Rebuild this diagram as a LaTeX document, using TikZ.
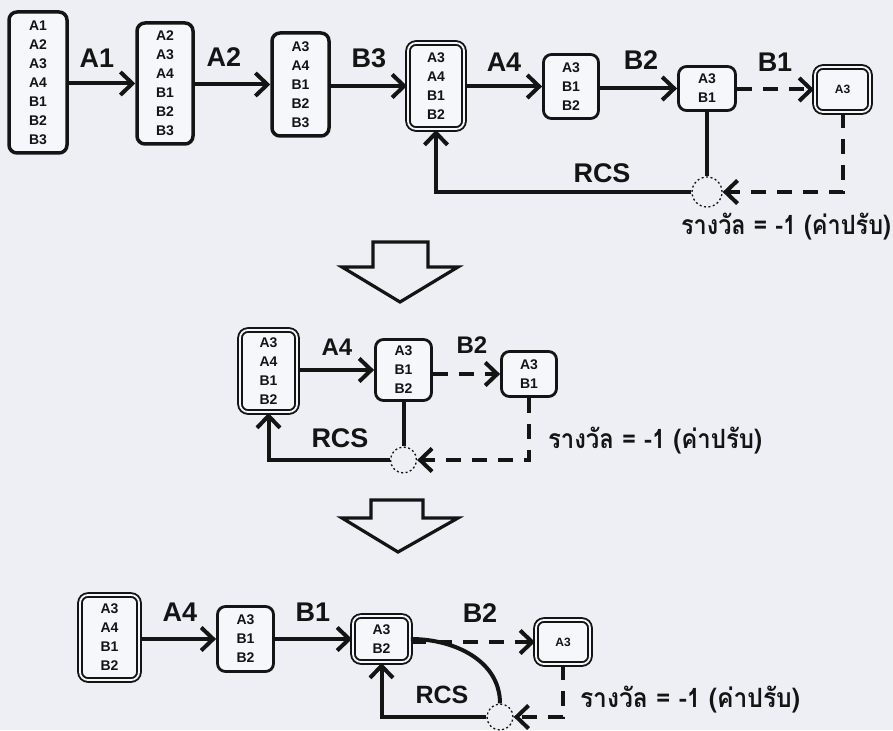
\documentclass[tikz,border=0pt]{standalone}
\usepackage{fontspec}
\usepackage{graphicx}
\setmainfont{Liberation Sans}
\newfontfamily\thaifont[Script=Thai]{Loma}
\usetikzlibrary{arrows.meta}
\definecolor{bg}{RGB}{237,239,245}
\definecolor{boxfill}{RGB}{246,247,251}
\definecolor{ink}{RGB}{20,20,20}
\tikzset{
 stbox/.style={draw=ink, line width=3.5pt, rounded corners=8pt, fill=boxfill, align=center, inner sep=0pt, text=ink, font=\bfseries\fontsize{14}{19}\selectfont},
 thinbox/.style={stbox, line width=2.8pt},
 dbbox/.style={stbox, line width=1.9pt, double=boxfill, double distance=1.8pt},
 lbl/.style={inner sep=0pt, text=ink, font=\bfseries\fontsize{27}{27}\selectfont},
 mlbl/.style={lbl, font=\bfseries\fontsize{24}{24}\selectfont},
 conn/.style={draw=ink, line width=4pt, -{Straight Barb[length=12pt,width=23pt]}},
 dconn/.style={conn, dash pattern=on 15pt off 11pt},
 plainln/.style={draw=ink, line width=4pt},
 junc/.style={circle, draw=ink, line width=1.3pt, dash pattern=on 2pt off 2.5pt, fill=bg, inner sep=0pt},
 thai/.style={inner sep=0pt, text=ink},
 blockarrow/.style={draw=ink, line width=3.2pt, fill=bg, line join=miter}
}
\newcommand{\thaitext}{\thaifont\bfseries รางวัล = -1 (ค่าปรับ)}
\begin{document}
\begin{tikzpicture}[x=1pt,y=-1pt]
\fill[bg] (0,0) rectangle (893,730);
\useasboundingbox (0,0) rectangle (893,730);

% ---------- top row ----------
\node[stbox, minimum width=58pt, minimum height=141pt] (t1) at (38,82.5) {A1\\A2\\A3\\A4\\B1\\B2\\B3};
\node[stbox, minimum width=56pt, minimum height=121pt] (t2) at (165,83.5) {A2\\A3\\A4\\B1\\B2\\B3};
\node[stbox, minimum width=57pt, minimum height=103pt] (t3) at (300.5,84.5) {A3\\A4\\B1\\B2\\B3};
\node[dbbox, minimum width=56pt, minimum height=86pt] (t4) at (436,86) {A3\\A4\\B1\\B2};
\node[thinbox, minimum width=55pt, minimum height=64pt] (t5) at (571,86.5) {A3\\B1\\B2};
\node[thinbox, minimum width=57pt, minimum height=44pt] (t6) at (707,88.5) {A3\\B1};
\node[dbbox, minimum width=55pt, minimum height=45pt, font=\bfseries\fontsize{12}{19}\selectfont] (t7) at (842.5,89.5) {A3};
\node[junc, minimum size=30pt] (tc) at (707,192) {};

\node[lbl] (la1) at (97,58) {A1};
\node[lbl] (la2) at (224,57) {A2};
\node[lbl] (lb3) at (369,58) {B3};
\node[lbl] (la4) at (504,62) {A4};
\node[lbl] (lb2) at (641,60) {B2};
\node[lbl] (lb1) at (775,62) {B1};
\node[lbl] (lrcs) at (602,173) {RCS};
\node[thai] (lth) at (786,227) {\resizebox*{210pt}{27pt}{\thaitext}};

\draw[conn] (t1.east |- t2) -- (t2.west);
\draw[conn] (t2.east |- t3) -- (t3.west);
\draw[conn] (t3.east |- t4) -- (t4.west);
\draw[conn] (t4.east |- t5) -- (t5.west);
\draw[conn] (t5.east |- t6) -- (t6.west);
\draw[dconn] (t6.east |- t7) -- (t7.west);
\draw[plainln] (t6.south) -- (tc.north);
\draw[conn] (tc.west) -| (t4.south);
\draw[dconn] (t7.south) |- (tc.east);

% ---------- block arrows ----------
\draw[blockarrow] (373,242) -- (428,242) -- (428,267) -- (458,267) -- (400,302) -- (342,267) -- (373,267) -- cycle;
\draw[blockarrow] (371,500) -- (423,500) -- (423,518) -- (458,518) -- (398,552) -- (342,518) -- (371,518) -- cycle;

% ---------- middle row ----------
\node[dbbox, minimum width=57pt, minimum height=82pt] (m1) at (268.5,371) {A3\\A4\\B1\\B2};
\node[thinbox, minimum width=56pt, minimum height=61pt] (m2) at (403.5,370) {A3\\B1\\B2};
\node[thinbox, minimum width=55pt, minimum height=45pt] (m3) at (529,374) {A3\\B1};
\node[junc, minimum size=26pt] (mc) at (403.5,460) {};

\node[mlbl] (ma4) at (337,347) {A4};
\node[mlbl] (mb2) at (472,345) {B2};
\node[lbl] (mrcs) at (340,438) {RCS};
\node[thai] (mth) at (655,441) {\resizebox*{214pt}{27pt}{\thaitext}};

\draw[conn] (m1.east |- m2) -- (m2.west);
\draw[dconn] (m2.east |- m3) -- (m3.west);
\draw[plainln] (m2.south) -- (mc.north);
\draw[conn] (mc.west) -| (m1.south);
\draw[dconn] (m3.south) |- (mc.east);

% ---------- bottom row ----------
\node[dbbox, minimum width=59pt, minimum height=85pt] (b1) at (109.5,637.5) {A3\\A4\\B1\\B2};
\node[thinbox, minimum width=56pt, minimum height=65pt] (b2) at (245.5,639) {A3\\B1\\B2};
\node[dbbox, minimum width=57pt, minimum height=46pt] (b3) at (381.5,639) {A3\\B2};
\node[dbbox, minimum width=54pt, minimum height=44pt, font=\bfseries\fontsize{12}{19}\selectfont] (b4) at (563,642) {A3};
\node[junc, minimum size=26pt] (bc) at (500,717) {};

\node[lbl] (ba4) at (180,612) {A4};
\node[lbl] (bb1) at (313,612) {B1};
\node[lbl] (bb2) at (480,613) {B2};
\node[lbl, font=\bfseries\fontsize{25}{25}\selectfont] (brcs) at (442,695) {RCS};
\node[thai] (bth) at (690,700) {\resizebox*{220pt}{27pt}{\thaitext}};

\draw[conn] (b1.east |- b2) -- (b2.west);
\draw[conn] (b2.east |- b3) -- (b3.west);
\draw[dconn] (b3.east |- b4) -- (b4.west);
\draw[plainln] (b3.east) to[out=0,in=90] (bc.north);
\draw[conn] (bc.west) -| (b3.south);
\draw[dconn] (b4.south) |- (bc.east);
\end{tikzpicture}
\end{document}
